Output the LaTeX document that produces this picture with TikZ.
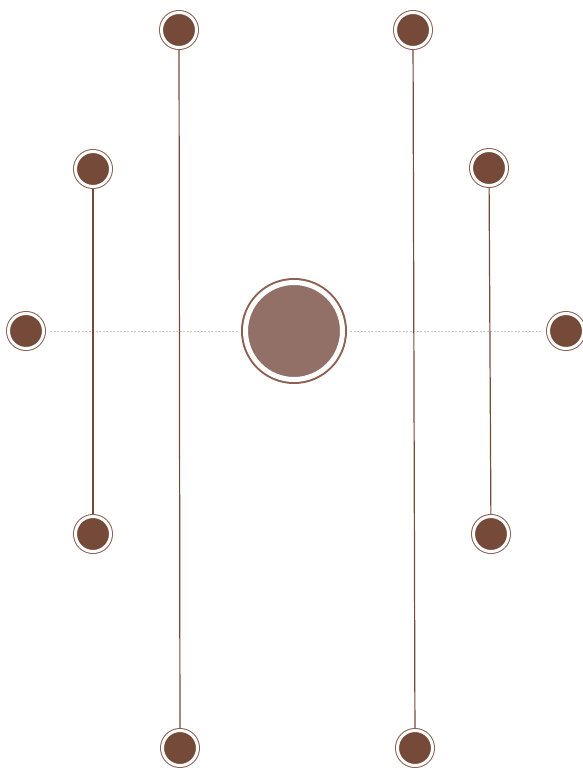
\documentclass[tikz,border=0pt]{standalone}
\usetikzlibrary{positioning}
\definecolor{bark}{RGB}{117,74,56}
\definecolor{clay}{RGB}{146,112,104}
\definecolor{rim}{RGB}{140,96,82}
\definecolor{haze}{RGB}{200,200,200}
\tikzset{
  dot/.style={circle,inner sep=0pt,minimum size=35pt,fill=bark,
    draw=white,line width=3pt,preaction={draw=rim,line width=5pt}},
  hub/.style={circle,inner sep=0pt,minimum size=97pt,fill=clay,
    draw=white,line width=5pt,preaction={draw=rim,line width=9pt}},
  stem/.style={draw=bark,line width=1.2pt,shorten <=1pt,shorten >=1pt},
  guide/.style={draw=haze,line width=0.6pt,dash pattern=on 2pt off 1.5pt,
    shorten <=5pt,shorten >=5pt},
}
\begin{document}
\begin{tikzpicture}[x=1pt,y=-1pt]
    \useasboundingbox (0,0) rectangle (582,768);
    \node[hub] (c) at (294,331) {};
    % outer pair
    \node[dot] (t1) at (179,30) {};
    \node[dot] (b1) at (180,748) {};
    \node[dot] (t2) at (413,30) {};
    \node[dot] (b2) at (415,748) {};
    % inner pair
    \node[dot] (t3) at (93,169) {};
    \node[dot] (b3) at (93,534) {};
    \node[dot] (t4) at (489,168) {};
    \node[dot] (b4) at (491,534) {};
    % sides
    \node[dot] (w) at (26,331) {};
    \node[dot] (e) at (566,331) {};
    \draw[guide] (w) -- (c);
    \draw[guide] (c) -- (e);
    \draw[stem] (t1) -- (b1); \draw[stem] (t2) -- (b2);
    \draw[stem] (t3) -- (b3); \draw[stem] (t4) -- (b4);
\end{tikzpicture}
\end{document}
